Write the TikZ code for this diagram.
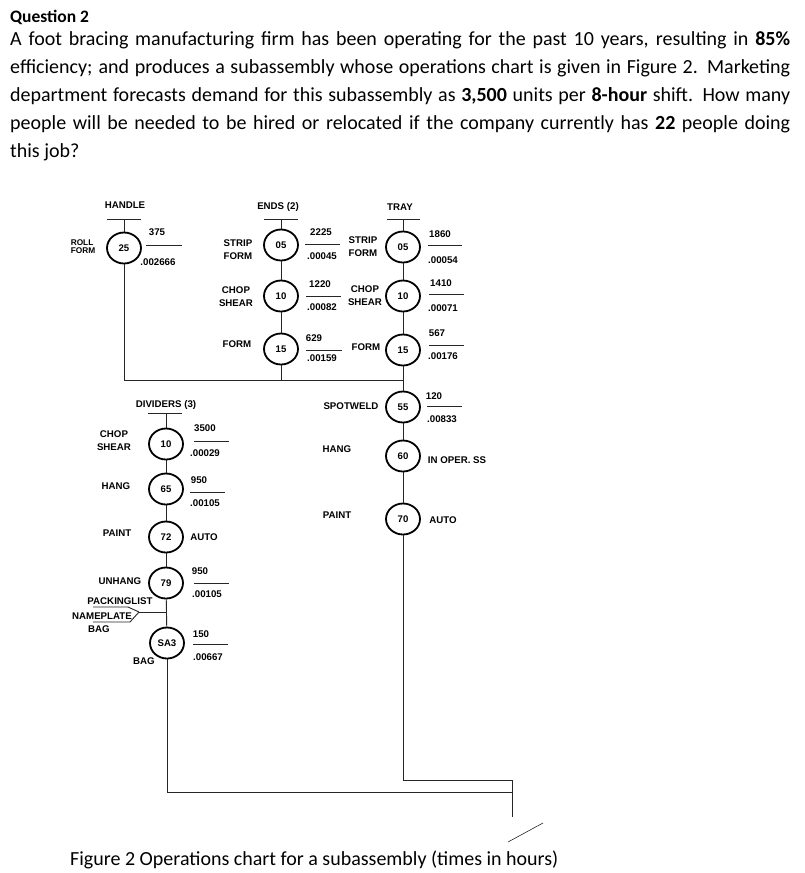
\documentclass[tikz,border=0pt]{standalone}
\usepackage{fontspec}
\setmainfont{Carlito}
\setsansfont{Liberation Sans}
\usetikzlibrary{shapes.geometric}
\tikzset{
  opc/.style={draw, ellipse, line width=1.8pt, minimum width=34pt, minimum height=31pt, inner sep=0pt, font=\sffamily\bfseries\fontsize{9.6}{10}\selectfont},
  lbl/.style={inner sep=0pt, font=\sffamily\bfseries\fontsize{9.7}{13}\selectfont, align=center},
  conn/.style={line width=0.9pt, black!85},
  barline/.style={line width=0.9pt, black!85},
  txt/.style={inner sep=0pt, anchor=base west, font=\fontsize{20}{28}\selectfont},
}
\begin{document}
\begin{tikzpicture}[x=1pt,y=-1pt]
\useasboundingbox (0,0) rectangle (804,873);
\fill[white] (0,0) rectangle (804,873);
% question text
\node[txt, font=\bfseries\fontsize{17.5}{20}\selectfont] (q) at (10,22) {Question 2};
\node[txt] (l1) at (10,45) {\makebox[780pt][s]{A foot bracing manufacturing firm has been operating for the past 10 years, resulting in \textbf{85\%}}};
\node[txt] (l2) at (10,73) {\makebox[780pt][s]{efficiency; and produces a subassembly whose operations chart is given in Figure 2. Marketing}};
\node[txt] (l3) at (10,101) {\makebox[780pt][s]{department forecasts demand for this subassembly as \textbf{3,500} units per \textbf{8-hour} shift. How many}};
\node[txt] (l4) at (10,129) {\makebox[780pt][s]{people will be needed to be hired or relocated if the company currently has \textbf{22} people doing}};
\node[txt] (l5) at (10,157) {this job?};
\node[txt] (cap) at (70,865) {Figure 2 Operations chart for a subassembly (times in hours)};

% HANDLE
\node[lbl] (handle) at (125,205) {HANDLE};
\draw[barline] (107,219) -- (141,219);
\coordinate (hb) at (124,219);
\node[opc] (c25) at (124,248) {25};
\node[lbl, font=\sffamily\bfseries\fontsize{8.3}{8}\selectfont, align=left] (rollform) at (83,247) {ROLL\\FORM};
\node[lbl] (n25) at (157,232) {375};
\draw[barline] (146,245) -- (182,245);
\node[lbl] (m25) at (158,262) {.002666};

% ENDS
\node[lbl] (ends) at (278,207) {ENDS (2)};
\draw[barline] (264,219) -- (298,219);
\coordinate (eb) at (281,219);
\node[opc] (e05) at (281,245) {05};
\node[opc] (e10) at (281,296) {10};
\node[opc] (e15) at (281,349) {15};
\node[lbl] (le05) at (238,250) {STRIP\\FORM};
\node[lbl] (le10) at (236,297) {CHOP\\SHEAR};
\node[lbl] (le15) at (237,344) {FORM};
\node[lbl] (ne05) at (321,232) {2225};
\draw[barline] (305,244) -- (340,244);
\node[lbl] (me05) at (322,256) {.00045};
\node[lbl] (ne10) at (320,284) {1220};
\draw[barline] (306,296) -- (341,296);
\node[lbl] (me10) at (322,307) {.00082};
\node[lbl] (ne15) at (314,338) {629};
\draw[barline] (306,350) -- (342,350);
\node[lbl] (me15) at (322,358) {.00159};

% TRAY
\node[lbl] (tray) at (400,207) {TRAY};
\draw[barline] (387,219) -- (420,219);
\coordinate (tb) at (403,219);
\node[opc] (t05) at (403,247) {05};
\node[opc] (t10) at (403,296) {10};
\node[opc] (t15) at (403,350) {15};
\node[lbl] (lt05) at (363,247) {STRIP\\FORM};
\node[lbl] (lt10) at (365,296) {CHOP\\SHEAR};
\node[lbl] (lt15) at (366,347) {FORM};
\node[lbl] (nt05) at (440,234) {1860};
\draw[barline] (428,245) -- (462,245);
\node[lbl] (mt05) at (443,260) {.00054};
\node[lbl] (nt10) at (441,283) {1410};
\draw[barline] (429,294) -- (464,294);
\node[lbl] (mt10) at (443,308) {.00071};
\node[lbl] (nt15) at (437,333) {567};
\draw[barline] (429,345) -- (464,345);
\node[lbl] (mt15) at (443,356) {.00176};

% main line
\node[opc] (s55) at (403,407) {55};
\node[opc] (s60) at (403,456) {60};
\node[opc] (s70) at (403,519) {70};
\node[lbl] (ls55) at (351,406) {SPOTWELD};
\node[lbl] (ls60) at (337,449) {HANG};
\node[lbl] (ls70) at (337,515) {PAINT};
\node[lbl] (ns55) at (434,396) {120};
\draw[barline] (427,406) -- (462,406);
\node[lbl] (ms55) at (442,419) {.00833};
\node[lbl] (rs60) at (457,460) {IN OPER. SS};
\node[lbl] (rs70) at (443,520) {AUTO};

% DIVIDERS
\node[lbl] (div) at (166,405) {DIVIDERS (3)};
\draw[barline] (148,413) -- (182,413);
\coordinate (db) at (166,413);
\node[opc] (d10) at (166,444) {10};
\node[opc] (d65) at (166,489) {65};
\node[opc] (d72) at (166,537) {72};
\node[opc] (d79) at (166,583) {79};
\node[opc] (sa3) at (167,643) {SA3};
\node[lbl] (ld10) at (114,441) {CHOP\\SHEAR};
\node[lbl] (ld65) at (116,486) {HANG};
\node[lbl] (ld72) at (117,533) {PAINT};
\node[lbl] (ld79) at (120,581) {UNHANG};
\node[lbl] (lsa3) at (144,661) {BAG};
\node[lbl] (nd10) at (205,428) {3500};
\draw[barline] (194,441) -- (229,441);
\node[lbl] (md10) at (205,453) {.00029};
\node[lbl] (nd65) at (199,480) {950};
\draw[barline] (190,492) -- (225,492);
\node[lbl] (md65) at (205,503) {.00105};
\node[lbl] (rd72) at (204,537) {AUTO};
\node[lbl] (nd79) at (200,571) {950};
\draw[barline] (194,583) -- (229,583);
\node[lbl] (md79) at (207,594) {.00105};
\node[lbl] (nsa3) at (201,634) {150};
\draw[barline] (193,644) -- (228,644);
\node[lbl] (msa3) at (208,657) {.00667};
\node[lbl] (pack) at (120,601) {PACKINGLIST};
\node[lbl] (name) at (102,616) {NAMEPLATE};
\node[lbl] (bag2) at (99,629) {BAG};
\coordinate (tip) at (139,612);
\coordinate (jp) at (166,612);
\draw[barline] (93,607) -- (128,607) -- (tip);
\draw[barline] (93,622) -- (130,622) -- (tip);

% connectors
\coordinate (j1) at (124,380);
\coordinate (je) at (281,380);
\coordinate (jt) at (403,380);
\coordinate (r1) at (403,780);
\coordinate (r2) at (512,780);
\coordinate (r3) at (512,817);
\coordinate (b1) at (167,792);
\coordinate (b2) at (512,792);
\draw[conn] (hb) -- (c25);
\draw[conn] (c25) -- (j1) -- (jt);
\draw[conn] (eb) -- (e05);
\draw[conn] (e05) -- (e10);
\draw[conn] (e10) -- (e15);
\draw[conn] (e15) -- (je);
\draw[conn] (tb) -- (t05);
\draw[conn] (t05) -- (t10);
\draw[conn] (t10) -- (t15);
\draw[conn] (t15) -- (s55);
\draw[conn] (s55) -- (s60);
\draw[conn] (s60) -- (s70);
\draw[conn] (s70) -- (r1) -- (r2) -- (r3);
\draw[conn] (db) -- (d10);
\draw[conn] (d10) -- (d65);
\draw[conn] (d65) -- (d72);
\draw[conn] (d72) -- (d79);
\draw[conn] (d79) -- (sa3);
\draw[conn] (tip) -- (jp);
\draw[conn] (sa3) -- (b1) -- (b2);
\coordinate (sl1) at (508,842);
\coordinate (sl2) at (543,823);
\draw[conn, line width=0.6pt] (sl1) -- (sl2);
\end{tikzpicture}
\end{document}
